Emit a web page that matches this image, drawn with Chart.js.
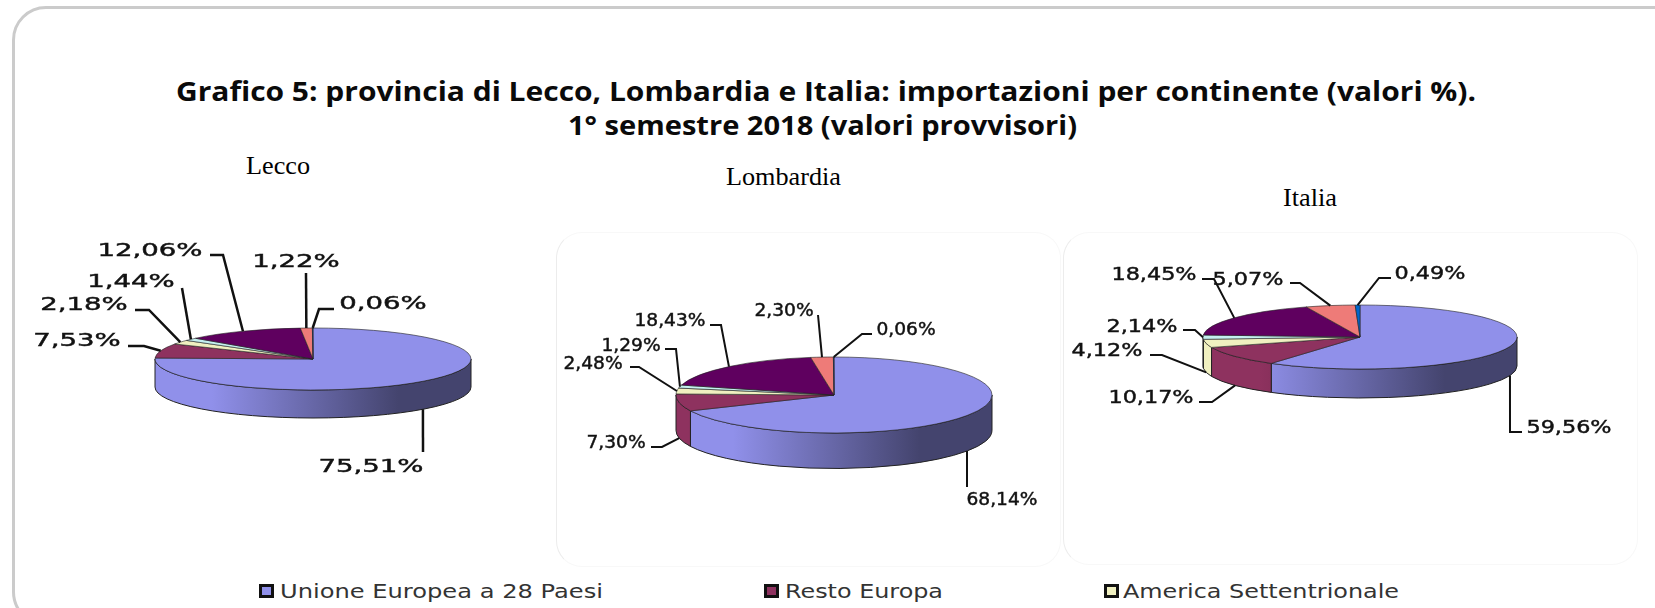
<!DOCTYPE html>
<html lang="it">
<head>
<meta charset="utf-8">
<title>Grafico 5</title>
<script src="https://cdn.jsdelivr.net/npm/chart.js@4"></script>
<style>
html,body{margin:0;padding:0;background:#fff;width:1655px;height:608px;overflow:hidden}
#stage{position:relative;width:1655px;height:608px;overflow:hidden}
.frame{position:absolute;left:12px;top:6px;width:1680px;height:620px;border:3px solid #cbcbcb;border-radius:34px;box-sizing:border-box}
.panel{position:absolute;border:1px solid #f8f8f8;border-left-color:#ececec;border-radius:26px;box-sizing:border-box;background:#fff}
.t{position:absolute;white-space:nowrap;transform-origin:0 50%;line-height:1}
canvas{position:absolute;left:0;top:0}
.mk{position:absolute;box-sizing:border-box;border:3px solid #111;width:15px;height:14px}
</style>
</head>
<body>
<div id="stage">
<div class="frame"></div>
<div class="panel" style="left:556px;top:232px;width:505px;height:335px"></div>
<div class="panel" style="left:1063px;top:232px;width:575px;height:333px"></div>
</div>
<script>
const categories = ["Unione Europea a 28 Paesi","Resto Europa","America Settentrionale","America Centro-Meridionale","Asia","Africa","Oceania"];
const lecco     = [75.51, 7.53, 2.18, 1.44, 12.06, 1.22, 0.06];
const lombardia = [68.14, 7.30, 2.48, 1.29, 18.43, 2.30, 0.06];
const italia    = [59.56, 10.17, 4.12, 2.14, 18.45, 5.07, 0.49];
const colours = ["#9090EA","#8E325F","#F0F0C0","#C4F0F0","#5F005F","#EE7B78","#0066CC"];
const titleLines = ["Grafico 5: provincia di Lecco, Lombardia e Italia: importazioni per continente (valori %).","1° semestre 2018 (valori provvisori)"];
const legendShown = categories.slice(0,3);

// label layout: text centre x, y, then leader points running from the text to the slice
const leccoLayout = [
  [371,465,[[423,452]]],
  [77,339,[[128,346],[144,346]]],
  [84,303,[[135,310],[149,310]]],
  [131,280,[[182,288]]],
  [150,249,[[210,255],[223,255]]],
  [296,260,[[306,273]]],
  [383,302,[[334,309],[319,309]]]
];
const lombardiaLayout = [
  [1002,498,[[967,487]]],
  [616,441,[[651,447],[662,447]]],
  [593,362,[[630,367],[639,367]]],
  [631,344,[[665,349],[676,349]]],
  [670,319,[[710,325],[721,325]]],
  [784,309,[[818,315]]],
  [906,328,[[872,334],[862,334]]]
];
const italiaLayout = [
  [1569,426,[[1522,432],[1510,432]]],
  [1151,396,[[1199,402],[1212,402]]],
  [1107,349,[[1150,355],[1162,355]]],
  [1142,325,[[1183,330],[1195,330]]],
  [1154,273,[[1202,279],[1214,279]]],
  [1248,278,[[1290,283],[1300,283]]],
  [1430,272,[[1391,278],[1379,278]]]
];

const stage = document.getElementById('stage');
function fitText(text, left, cy, width, font, color){
  const s = document.createElement('span');
  s.className = 't';
  s.textContent = text;
  s.style.font = font;
  s.style.lineHeight = '1';
  s.style.color = color;
  s.style.left = left + 'px';
  stage.appendChild(s);
  const w = s.getBoundingClientRect().width, h = s.getBoundingClientRect().height;
  s.style.top = (cy - h/2) + 'px';
  s.style.transform = 'scaleX(' + (width / w) + ')';
}
fitText(titleLines[0],176,91,1300,'700 26px "Open Sans"','#0a0a0a');
fitText(titleLines[1],568,125,509,'700 26px "Open Sans"','#0a0a0a');
fitText("Lecco",246,166,64,'26px "Liberation Serif"','#000');
fitText("Lombardia",726,177,115,'26px "Liberation Serif"','#000');
fitText("Italia",1283,198,54,'26px "Liberation Serif"','#000');

const legendGeom = [[259,280,323],[764,785,158],[1104,1123,276]];
legendShown.forEach((name,i)=>{
  const m = document.createElement('div');
  m.className = 'mk';
  m.style.left = legendGeom[i][0]+'px';
  m.style.top = '584px';
  m.style.background = colours[i];
  stage.appendChild(m);
  fitText(name,legendGeom[i][1],590.5,legendGeom[i][2],'20px "DejaVu Sans"','#333');
});

function shade(hex,k){
  const n = parseInt(hex.slice(1),16);
  return `rgb(${Math.round((n>>16&255)*k)},${Math.round((n>>8&255)*k)},${Math.round((n&255)*k)})`;
}

const pie3d = {
  id:'pie3d',
  beforeDatasetsDraw(chart,args,o){
    const ctx = chart.ctx, arcs = chart.getDatasetMeta(0).data;
    const cx = arcs[0].x, cy = arcs[0].y, R = arcs[0].outerRadius, Ry = R*o.tilt;
    ctx.save();
    arcs.forEach((arc,i)=>{
      const a0 = Math.max(arc.startAngle,0), a1 = Math.min(arc.endAngle,Math.PI);
      if(a1<=a0) return;
      const g = ctx.createLinearGradient(cx-R,0,cx+R,0);
      g.addColorStop(0,colours[i]);
      g.addColorStop(.18,colours[i]);
      g.addColorStop(.77,shade(colours[i],.47));
      g.addColorStop(1,shade(colours[i],.47));
      ctx.beginPath();
      ctx.ellipse(cx,cy,R,Ry,0,a0,a1);
      ctx.ellipse(cx,cy+o.depth,R,Ry,0,a1,a0,true);
      ctx.closePath();
      ctx.fillStyle = g; ctx.fill();
      ctx.lineWidth = 1; ctx.strokeStyle = '#222'; ctx.stroke();
    });
    ctx.restore();
    ctx.save();
    ctx.translate(cx,cy); ctx.scale(1,o.tilt); ctx.translate(-cx,-cy);
  },
  afterDatasetsDraw(chart){ chart.ctx.restore(); },
  afterDraw(chart,args,o){
    const ctx = chart.ctx, arcs = chart.getDatasetMeta(0).data, vals = chart.data.datasets[0].data;
    ctx.save();
    arcs.forEach((arc,i)=>{
      const mid = (arc.startAngle+arc.endAngle)/2;
      const ax = arc.x + arc.outerRadius*Math.cos(mid);
      const ay = arc.y + arc.outerRadius*o.tilt*Math.sin(mid) + (Math.sin(mid)>0.05?o.depth:0);
      const [tx,ty,pts] = o.layout[i];
      ctx.beginPath();
      pts.forEach((p,k)=> k?ctx.lineTo(p[0],p[1]):ctx.moveTo(p[0],p[1]));
      ctx.lineTo(ax,ay);
      ctx.strokeStyle = '#111'; ctx.lineWidth = o.lineWidth; ctx.stroke();
      const label = vals[i].toFixed(2).replace('.',',')+'%';
      ctx.save();
      ctx.translate(tx,ty+2.5); ctx.scale(o.stretch,1);
      ctx.font = '18px "DejaVu Sans"';
      ctx.fillStyle = '#111'; ctx.textAlign = 'center'; ctx.textBaseline = 'middle';
      ctx.strokeStyle = '#111'; ctx.lineWidth = .45;
      ctx.strokeText(label,0,0);
      ctx.fillText(label,0,0);
      ctx.restore();
    });
    ctx.restore();
  }
};

function makePie(values,layout,cx,cy,R,tilt,depth,stretch,lineWidth){
  const c = document.createElement('canvas');
  c.width = 1655; c.height = 608;
  c.style.width = '1655px'; c.style.height = '608px';
  stage.appendChild(c);
  const pad = 0.5;
  new Chart(c,{
    type:'pie',
    data:{labels:categories,datasets:[{data:values,backgroundColor:colours,borderColor:'#222',borderWidth:1,hoverOffset:0,hoverBorderWidth:1}]},
    plugins:[pie3d],
    options:{
      responsive:false,animation:false,events:[],
      layout:{padding:{left:cx-R-pad,top:cy-R-pad,right:1655-cx-R-pad,bottom:608-cy-R-pad}},
      plugins:{legend:{display:false},tooltip:{enabled:false},title:{display:false},
        pie3d:{tilt,depth,layout,stretch,lineWidth}}
    }
  });
}
makePie(lecco,leccoLayout,313,359,158,31/158,28,1.53,2.5);
makePie(lombardia,lombardiaLayout,834,395,158,38/158,35.5,1.035,2);
makePie(italia,italiaLayout,1360,337,157,32/157,29,1.24,2);
</script>
</body>
</html>
